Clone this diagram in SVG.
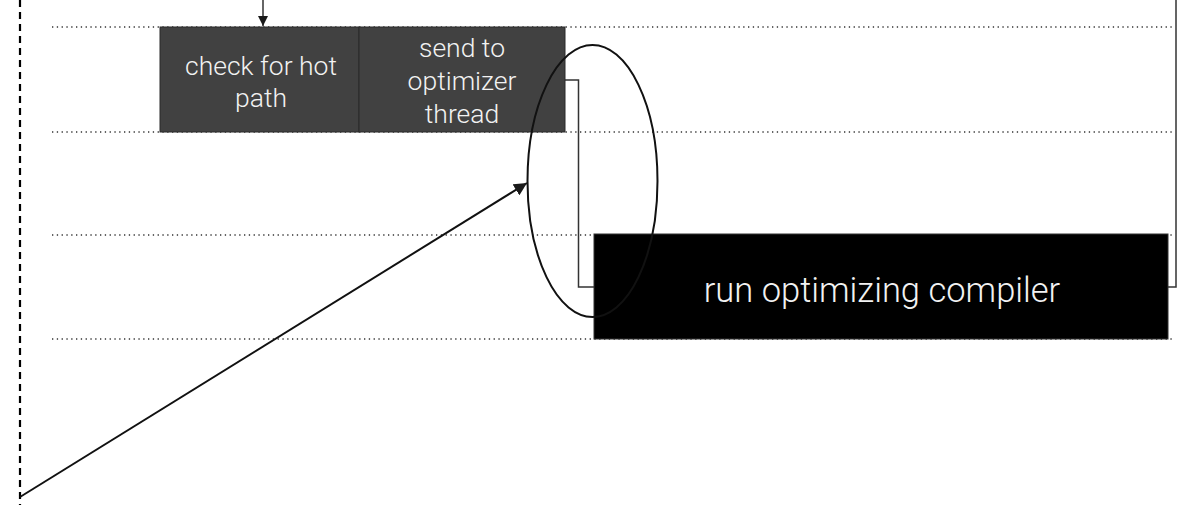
<svg xmlns="http://www.w3.org/2000/svg" width="1181" height="505" viewBox="0 0 1181 505">
  <defs>
    <marker id="arrow" viewBox="0 0 10 10" refX="10" refY="5" markerWidth="10" markerHeight="10" markerUnits="userSpaceOnUse" orient="auto">
      <path d="M0,0 L10,5 L0,10 z" fill="#1a1a1a"/>
    </marker>
    <marker id="arrowBig" viewBox="0 0 10 10" refX="10" refY="5" markerWidth="13" markerHeight="13" markerUnits="userSpaceOnUse" orient="auto">
      <path d="M0,0 L10,5 L0,10 z" fill="#1a1a1a"/>
    </marker>
  </defs>
  <style>
    .lane { stroke: #333; stroke-width: 1.3; stroke-dasharray: 1.3 3.5; fill: none; }
    .timeline { stroke: #000; stroke-width: 2.2; stroke-dasharray: 7 5; fill: none; }
    .wire { stroke: #333; stroke-width: 1.5; fill: none; }
    .grey { fill: #414141; stroke: #2a2a2a; stroke-width: 1; }
    .black { fill: #000; stroke: #333; stroke-width: 1; }
    .lbl { font-family: Roboto, "Liberation Sans", sans-serif; font-weight: 300; fill: #f2f2f2; text-anchor: middle; }
  </style>
  <rect width="1181" height="505" fill="#fff"/>

  <!-- timeline and lane guides -->
  <line class="timeline" x1="20" y1="0" x2="20" y2="505"/>
  <g id="lanes">
    <line class="lane" x1="52" y1="27" x2="1174" y2="27"/>
    <line class="lane" x1="52" y1="132" x2="1174" y2="132"/>
    <line class="lane" x1="52" y1="235" x2="1174" y2="235"/>
    <line class="lane" x1="52" y1="339" x2="1174" y2="339"/>
  </g>

  <g id="connectors">
    <line class="wire" x1="263" y1="0" x2="263" y2="26" stroke="#111" marker-end="url(#arrow)"/>
    <polyline class="wire" points="565,80 578.5,80 578.5,287 594,287"/>
    <polyline class="wire" points="1168,287 1176,287 1176,0"/>
    <line x1="20" y1="497" x2="527" y2="183" stroke="#111" stroke-width="2" marker-end="url(#arrowBig)"/>
  </g>

  <g id="check-hot-path">
    <rect class="grey" x="160" y="27" width="199" height="105"/>
    <text class="lbl" font-size="26.5" x="261" y="75">check for hot</text>
    <text class="lbl" font-size="26.5" x="261" y="107">path</text>
  </g>

  <g id="send-to-optimizer">
    <rect class="grey" x="359" y="27" width="206" height="105"/>
    <text class="lbl" font-size="26.5" x="462" y="57">send to</text>
    <text class="lbl" font-size="26.5" x="462" y="90">optimizer</text>
    <text class="lbl" font-size="26.5" x="462" y="123">thread</text>
  </g>

  <g id="run-compiler">
    <rect class="black" x="594" y="234" width="574" height="105"/>
    <text class="lbl" font-size="34.5" x="882" y="302">run optimizing compiler</text>
  </g>

  <g id="highlight">
    <ellipse cx="592.5" cy="181" rx="65" ry="136" fill="none" stroke="#111" stroke-width="2"/>
  </g>
</svg>
